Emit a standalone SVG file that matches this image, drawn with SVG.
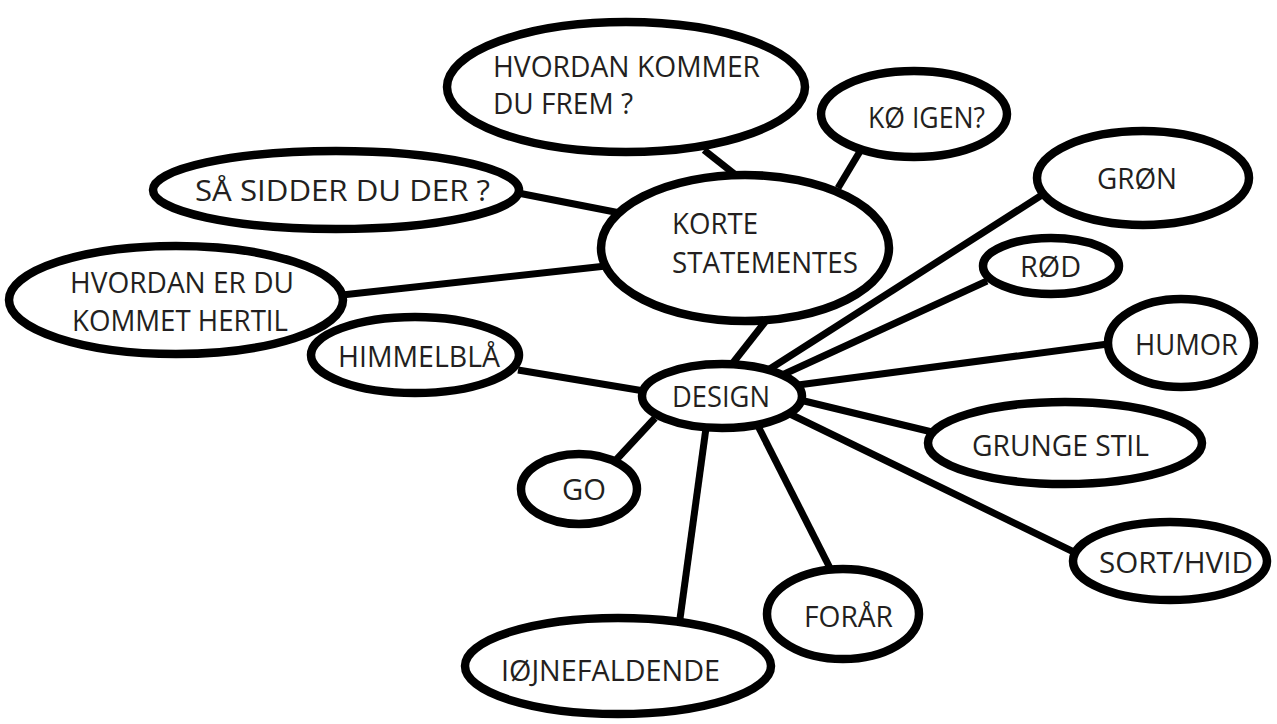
<svg xmlns="http://www.w3.org/2000/svg" width="1277" height="724" viewBox="0 0 1277 724">
<style>
.n ellipse{fill:#fff;stroke:#000;stroke-width:8.5}
.c line{stroke:#000;stroke-width:7}
text{font-family:"Open Sans","Noto Sans","Liberation Sans",sans-serif;font-size:29px;fill:#231f20}
</style>
<rect width="1277" height="724" fill="#fff"/>
<g id="connectors" class="c">
<line x1="704" y1="150" x2="742" y2="180"/>
<line x1="838" y1="188" x2="862" y2="148"/>
<line x1="518" y1="193" x2="620" y2="213"/>
<line x1="342" y1="295" x2="606" y2="266"/>
<line x1="765" y1="322" x2="732" y2="364"/>
<line x1="765" y1="372" x2="1045" y2="193"/>
<line x1="780" y1="376" x2="987" y2="281"/>
<line x1="798" y1="385" x2="1108" y2="344"/>
<line x1="800" y1="400" x2="932" y2="432"/>
<line x1="790" y1="414" x2="1082" y2="556"/>
<line x1="758" y1="426" x2="832" y2="572"/>
<line x1="706" y1="428" x2="679" y2="626"/>
<line x1="655" y1="418" x2="616" y2="460"/>
<line x1="518" y1="370" x2="644" y2="391"/>
</g>
<g id="n-hvordan-kommer" class="n"><ellipse cx="626" cy="87" rx="179" ry="65"/><text x="493" y="77" textLength="267" lengthAdjust="spacingAndGlyphs">HVORDAN KOMMER</text><text x="493" y="114" textLength="140" lengthAdjust="spacingAndGlyphs">DU FREM ?</text></g>
<g id="n-koe" class="n"><ellipse cx="914" cy="114" rx="93" ry="43"/><text x="868" y="128" textLength="117" lengthAdjust="spacingAndGlyphs">KØ IGEN?</text></g>
<g id="n-saa" class="n"><ellipse cx="336" cy="190" rx="183" ry="39"/><text x="195" y="201" textLength="295" lengthAdjust="spacingAndGlyphs">SÅ SIDDER DU DER ?</text></g>
<g id="n-korte" class="n"><ellipse cx="745" cy="248" rx="144" ry="73"/><text x="672" y="234" textLength="86" lengthAdjust="spacingAndGlyphs">KORTE</text><text x="672" y="273" textLength="186" lengthAdjust="spacingAndGlyphs">STATEMENTES</text></g>
<g id="n-groen" class="n"><ellipse cx="1143" cy="178" rx="106" ry="47"/><text x="1097" y="189" textLength="80" lengthAdjust="spacingAndGlyphs">GRØN</text></g>
<g id="n-hvordan-er" class="n"><ellipse cx="176" cy="300" rx="167" ry="54"/><text x="70" y="293" textLength="224" lengthAdjust="spacingAndGlyphs">HVORDAN ER DU</text><text x="72" y="331" textLength="216" lengthAdjust="spacingAndGlyphs">KOMMET HERTIL</text></g>
<g id="n-roed" class="n"><ellipse cx="1051" cy="266" rx="68" ry="28"/><text x="1020" y="277" textLength="61" lengthAdjust="spacingAndGlyphs">RØD</text></g>
<g id="n-himmel" class="n"><ellipse cx="415" cy="355" rx="104" ry="38"/><text x="338" y="367" textLength="162" lengthAdjust="spacingAndGlyphs">HIMMELBLÅ</text></g>
<g id="n-humor" class="n"><ellipse cx="1181" cy="343" rx="73" ry="44"/><text x="1135" y="355" textLength="103" lengthAdjust="spacingAndGlyphs">HUMOR</text></g>
<g id="n-design" class="n"><ellipse cx="722" cy="396" rx="80" ry="32"/><text x="672" y="407" textLength="98" lengthAdjust="spacingAndGlyphs">DESIGN</text></g>
<g id="n-grunge" class="n"><ellipse cx="1065" cy="443" rx="137" ry="41"/><text x="972" y="456" textLength="177" lengthAdjust="spacingAndGlyphs">GRUNGE STIL</text></g>
<g id="n-go" class="n"><ellipse cx="579" cy="489" rx="58" ry="35"/><text x="562" y="500" textLength="44" lengthAdjust="spacingAndGlyphs">GO</text></g>
<g id="n-sort" class="n"><ellipse cx="1170" cy="561" rx="97" ry="39"/><text x="1099" y="573" textLength="154" lengthAdjust="spacingAndGlyphs">SORT/HVID</text></g>
<g id="n-foraar" class="n"><ellipse cx="843" cy="614" rx="76" ry="45"/><text x="804" y="627" textLength="89" lengthAdjust="spacingAndGlyphs">FORÅR</text></g>
<g id="n-iojne" class="n"><ellipse cx="618" cy="666" rx="153" ry="48"/><text x="501" y="681" textLength="219" lengthAdjust="spacingAndGlyphs">IØJNEFALDENDE</text></g>
</svg>
